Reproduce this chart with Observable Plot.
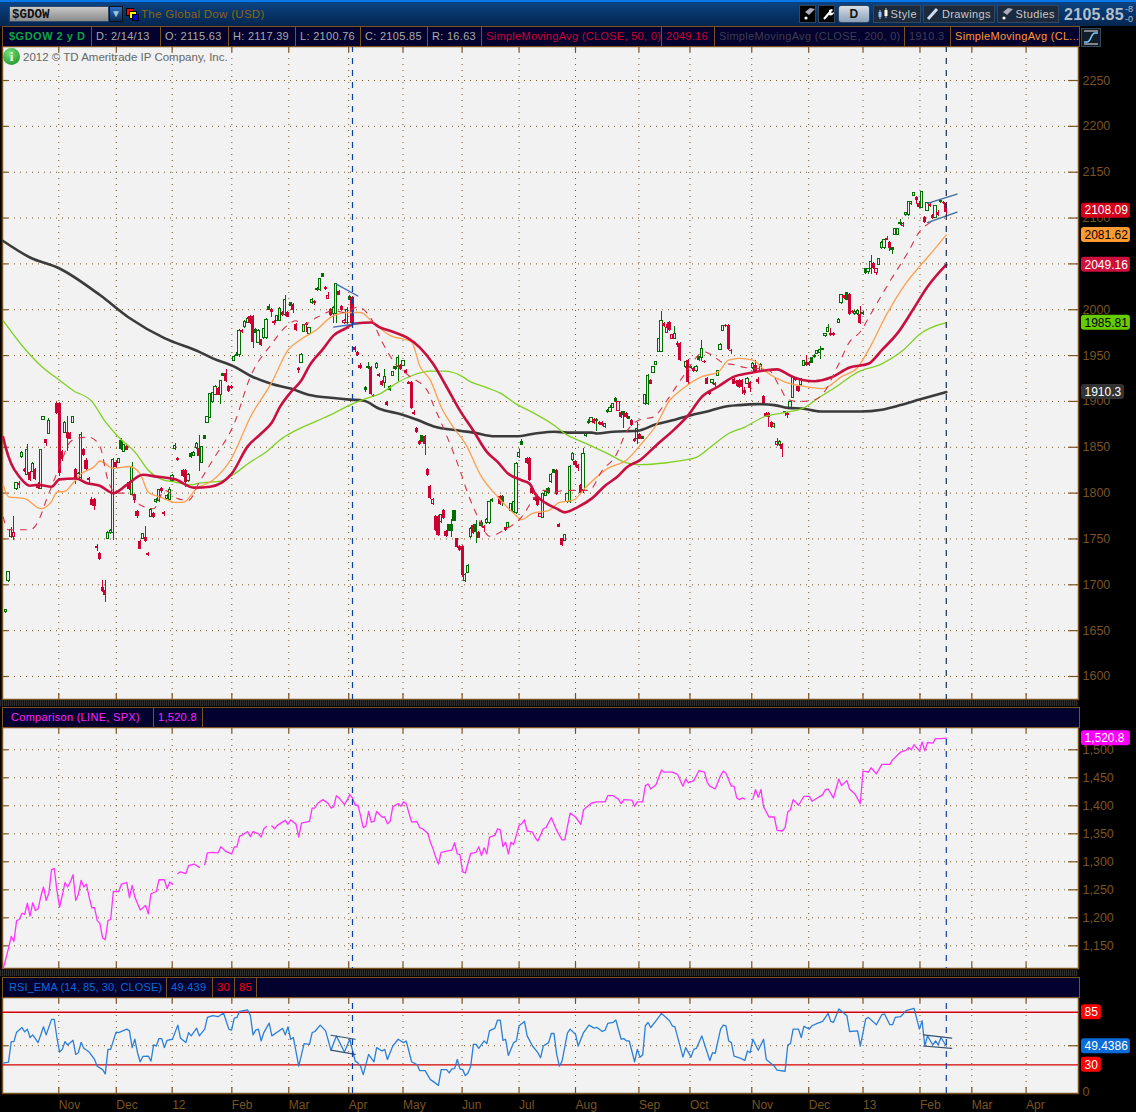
<!DOCTYPE html>
<html><head><meta charset="utf-8">
<script src="https://cdn.jsdelivr.net/npm/d3@7"></script>
<script src="https://cdn.jsdelivr.net/npm/@observablehq/plot@0.6"></script>
<style>
html,body{margin:0;padding:0;background:#000;width:1136px;height:1112px;overflow:hidden}
body{position:relative;font-family:"Liberation Sans",sans-serif}
.abs,svg{position:absolute}
.top{left:0;top:0;width:1136px;height:26px;background:linear-gradient(#0878e8 0,#0878e8 2px,#0a4384 2px,#04254e 100%)}
.row{position:absolute;left:2px;width:1076px;height:19px;background:#03012e;border:1px solid #7a5220;box-sizing:content-box;color:#aaa;font-size:11px;letter-spacing:.3px;line-height:19px;white-space:nowrap;overflow:hidden}
.row span{position:absolute;top:0;height:19px;padding-left:4px;box-sizing:border-box;border-right:1px solid #7a5220;overflow:hidden}
.band{position:absolute;left:0;width:1078px;height:6px;background:repeating-linear-gradient(90deg,#2e2e2e 0 1px,#111 1px 2px)}
.btn{position:absolute;top:5px;height:18px;background:#1b2a3c;border:1px solid #33465c;color:#c9c9c9;font-size:11px;line-height:16px;box-sizing:border-box;letter-spacing:.4px;text-align:right;padding-right:3px}
.btn svg{left:2px;top:1px}
</style></head><body>
<div id="charts"></div>
<script>
// ---------- axis ticks ----------
const monthTicks=[20.7,42.1,62.9,85.1,106.3,128.6,148.8,170.8,192,213,236.6,255.6,278.6,299.8,320,341.2,360.5,380.7];
const monthLabels=["Nov","Dec","12","Feb","Mar","Apr","May","Jun","Jul","Aug","Sep","Oct","Nov","Dec","13","Feb","Mar","Apr"];
const priceTicks=[1600,1650,1700,1750,1800,1850,1900,1950,2000,2050,2100,2150,2200,2250];
const priceLabels=[1600,1650,1700,1750,1800,1850,1900,1950,2000,2100,2150,2200,2250];
const spxTicks=[1150,1200,1250,1300,1350,1400,1450,1500];
const rsiGrid=[50];
const rsiLevels=[30,85];
const cursorBars=[130,351];

// ---------- candles: [bar, bodyLow, bodyHigh, low, high] ----------
const greenBars=[[1,1670,1672,1669,1673],[2,1704,1714,1703,1715],[3,1752,1760,1751,1763],[5,1804,1811,1803,1812],[7,1839,1844,1838,1845],[9,1820,1847,1819,1853],[11,1823,1832,1822,1833],[14,1805,1847,1804,1848],[15,1880,1883,1879,1884],[17,1865,1879,1864,1881],[23,1866,1877,1865,1878],[26,1877,1883,1876,1884],[28,1815,1821,1814,1822],[29,1816,1863,1815,1866],[39,1750,1757,1749,1758],[40,1756,1759,1755,1760],[41,1757,1836,1748,1838],[43,1833,1837,1832,1838],[45,1845,1852,1844,1853],[48,1798,1829,1797,1833],[52,1750,1755,1749,1756],[55,1774,1782,1773,1783],[57,1790,1793,1789,1794],[58,1791,1803,1790,1804],[61,1794,1797,1793,1798],[62,1793,1803,1792,1806],[63,1813,1819,1812,1820],[64,1848,1851,1847,1854],[69,1813,1820,1812,1821],[71,1841,1844,1840,1845],[72,1849,1854,1848,1855],[74,1833,1850,1832,1851],[76,1877,1883,1876,1884],[77,1882,1908,1881,1909],[78,1899,1909,1898,1910],[79,1907,1916,1906,1917],[81,1907,1922,1897,1923],[86,1944,1948,1943,1950],[88,1951,1977,1948,1978],[90,1981,1987,1980,1988],[91,1986,1990,1985,1991],[95,1964,1977,1963,1978],[97,1969,1979,1968,1980],[98,1969,1989,1968,1990],[102,1988,1993,1987,1994],[103,1988,2001,1987,2002],[105,1994,2011,1993,2015],[111,1942,1951,1941,1952],[112,1976,1983,1975,1984],[114,1974,1980,1973,1981],[115,2007,2011,2006,2012],[118,2021,2033,2020,2034],[123,1995,2002,1985,2003],[124,1995,2028,1985,2029],[128,1985,2000,1984,2002],[139,1936,1941,1935,1942],[142,1920,1927,1914,1935],[145,1928,1932,1927,1933],[147,1937,1947,1922,1950],[149,1939,1944,1938,1945],[163,1768,1776,1767,1777],[172,1704,1711,1703,1712],[173,1713,1721,1712,1722],[174,1752,1761,1751,1762],[180,1767,1771,1766,1772],[181,1767,1790,1766,1791],[188,1762,1767,1761,1768],[189,1780,1788,1779,1789],[190,1779,1790,1778,1791],[191,1778,1832,1777,1833],[192,1839,1844,1838,1848],[201,1773,1799,1772,1800],[202,1797,1801,1796,1802],[204,1812,1820,1811,1821],[209,1748,1754,1747,1755],[210,1790,1799,1789,1800],[211,1790,1829,1789,1830],[212,1836,1843,1835,1844],[216,1803,1843,1800,1849],[217,1862,1865,1861,1866],[219,1878,1882,1877,1883],[224,1872,1875,1871,1876],[226,1889,1893,1888,1896],[227,1893,1897,1892,1898],[236,1859,1870,1853,1877],[239,1897,1907,1896,1908],[240,1897,1928,1896,1929],[242,1931,1937,1930,1938],[243,1940,1943,1939,1944],[244,1954,1968,1953,1969],[245,1954,1988,1953,1998],[250,1968,1974,1967,1982],[254,1937,1943,1936,1944],[258,1933,1938,1932,1939],[260,1947,1957,1944,1966],[264,1920,1923,1919,1924],[266,1928,1933,1927,1934],[267,1956,1962,1955,1963],[268,1977,1982,1976,1983],[277,1919,1925,1918,1926],[279,1936,1941,1935,1942],[282,1933,1940,1932,1941],[287,1872,1875,1871,1876],[289,1852,1856,1851,1857],[293,1893,1899,1892,1900],[294,1904,1926,1903,1927],[297,1918,1924,1917,1925],[298,1939,1944,1938,1945],[303,1952,1955,1951,1956],[304,1953,1956,1946,1960],[306,1971,1973,1970,1974],[307,1976,1980,1975,1984],[311,1986,1989,1985,1990],[312,2007,2016,2006,2017],[317,1995,1998,1994,1999],[318,1995,1999,1994,2000],[322,2041,2044,2038,2045],[323,2044,2052,2038,2059],[326,2049,2055,2048,2056],[327,2067,2073,2066,2074],[328,2067,2076,2066,2077],[332,2082,2088,2081,2089],[333,2082,2088,2081,2089],[336,2103,2105,2102,2106],[337,2103,2117,2102,2118],[338,2115,2117,2114,2118],[339,2124,2127,2123,2128],[342,2111,2128,2110,2129],[344,2108,2116,2107,2117],[347,2100,2113,2099,2114]];
const redBars=[[6,1808,1811,1805,1813],[8,1824,1826,1823,1827],[10,1814,1823,1813,1824],[12,1815,1826,1814,1827],[13,1805,1809,1804,1812],[16,1854,1858,1851,1859],[20,1887,1898,1886,1899],[21,1821,1898,1818,1899],[22,1837,1845,1834,1847],[24,1860,1866,1845,1884],[25,1859,1865,1858,1866],[27,1815,1826,1809,1827],[30,1841,1848,1840,1849],[31,1826,1836,1825,1838],[32,1814,1816,1811,1817],[33,1787,1793,1786,1795],[34,1785,1793,1781,1794],[35,1740,1742,1736,1744],[36,1728,1734,1727,1735],[37,1693,1697,1692,1705],[38,1688,1694,1681,1705],[42,1828,1833,1827,1834],[46,1847,1851,1846,1852],[47,1804,1812,1803,1813],[49,1792,1798,1789,1799],[50,1774,1780,1772,1781],[51,1739,1747,1738,1748],[53,1747,1752,1746,1764],[54,1732,1734,1731,1735],[56,1773,1778,1772,1779],[59,1802,1805,1800,1806],[60,1777,1779,1775,1780],[65,1836,1838,1835,1839],[67,1818,1825,1817,1826],[68,1812,1825,1806,1826],[73,1840,1849,1824,1863],[80,1907,1914,1906,1915],[83,1922,1930,1921,1935],[84,1911,1916,1910,1917],[85,1914,1916,1913,1917],[89,1975,1977,1974,1978],[92,1985,1993,1984,1994],[93,1964,1993,1958,1994],[96,1961,1967,1960,1968],[100,1997,2000,1992,2001],[101,1985,1987,1983,1988],[104,1994,1997,1993,1998],[106,1992,1997,1991,1998],[108,1999,2006,1996,2007],[109,1977,1984,1976,1985],[110,1934,1936,1931,1937],[113,1983,1985,1975,1986],[116,2007,2009,2005,2010],[120,2022,2024,2021,2025],[122,1994,2000,1993,2001],[125,2016,2020,2015,2021],[126,1999,2004,1998,2005],[130,1985,2013,1984,2014],[131,1956,1959,1953,1960],[132,1950,1953,1949,1954],[133,1936,1939,1935,1941],[137,1908,1937,1907,1938],[138,1905,1907,1904,1908],[140,1927,1929,1926,1930],[141,1917,1922,1916,1923],[143,1896,1899,1895,1900],[148,1935,1939,1934,1940],[150,1930,1934,1929,1935],[151,1919,1921,1918,1922],[152,1892,1921,1891,1922],[153,1886,1888,1885,1890],[154,1866,1871,1865,1872],[155,1853,1856,1852,1857],[157,1853,1862,1841,1863],[158,1819,1826,1818,1827],[159,1794,1807,1793,1808],[161,1759,1775,1758,1776],[162,1754,1775,1753,1776],[164,1772,1781,1771,1782],[165,1753,1758,1752,1759],[169,1741,1750,1740,1751],[170,1737,1742,1736,1743],[171,1710,1742,1708,1743],[175,1756,1765,1755,1766],[177,1751,1757,1750,1758],[179,1761,1764,1757,1765],[185,1788,1796,1787,1797],[187,1759,1762,1758,1763],[195,1832,1838,1831,1839],[196,1814,1838,1813,1839],[197,1800,1805,1799,1806],[198,1792,1795,1791,1796],[199,1786,1795,1785,1796],[206,1798,1825,1797,1826],[207,1763,1766,1762,1767],[208,1743,1750,1742,1751],[213,1830,1834,1829,1835],[214,1827,1830,1824,1831],[215,1800,1808,1799,1809],[220,1876,1880,1875,1881],[222,1875,1877,1874,1878],[223,1874,1877,1873,1878],[230,1882,1888,1881,1889],[232,1882,1887,1881,1888],[234,1874,1879,1873,1880],[235,1856,1859,1855,1860],[237,1859,1864,1858,1865],[241,1919,1923,1918,1924],[246,1982,1985,1981,1986],[248,1977,1986,1976,1987],[251,1961,1963,1959,1965],[252,1945,1963,1944,1964],[255,1921,1945,1919,1946],[257,1933,1936,1932,1937],[261,1942,1944,1941,1945],[262,1919,1925,1918,1926],[263,1908,1911,1906,1912],[265,1917,1920,1913,1921],[269,1982,1983,1981,1984],[270,1957,1983,1955,1984],[271,1954,1956,1951,1957],[272,1919,1924,1918,1925],[273,1920,1922,1916,1923],[274,1915,1923,1914,1924],[275,1915,1923,1908,1924],[276,1909,1912,1907,1915],[278,1914,1921,1910,1922],[280,1931,1939,1930,1945],[281,1921,1924,1918,1926],[283,1897,1905,1896,1906],[284,1883,1887,1882,1888],[285,1882,1887,1872,1888],[286,1872,1877,1871,1878],[290,1848,1853,1839,1854],[292,1885,1887,1881,1888],[295,1923,1925,1922,1926],[296,1911,1916,1910,1917],[299,1939,1942,1938,1950],[300,1939,1942,1938,1943],[308,1972,1974,1971,1980],[309,1972,1974,1971,1975],[313,2012,2015,2011,2016],[315,1995,2017,1994,2018],[316,1997,1998,1996,1999],[319,1985,1995,1984,2003],[324,2045,2050,2044,2051],[329,2076,2078,2075,2080],[330,2067,2073,2064,2074],[340,2119,2122,2115,2123],[341,2111,2116,2110,2118],[343,2095,2101,2094,2102],[345,2113,2115,2112,2116],[346,2099,2103,2098,2104],[348,2103,2106,2102,2108],[350,2116,2117,2115,2118],[351,2105.85,2115.63,2100.76,2117.39]];
const outlineRedBars=[[4,1752,1757,1748,1774],[121,2012,2015,2011,2019],[127,1985,1988,1984,1989],[160,1788,1793,1787,1794],[200,1774,1777,1773,1778],[229,1890,1899,1889,1900],[247,1975,1980,1974,1984],[249,1968,1972,1967,1973],[288,1852,1856,1851,1860],[325,2040,2044,2037,2045],[335,2091,2094,2090,2095]];
const solidGreenBars=[[44,1848,1857,1847,1860],[70,1839,1843,1838,1844],[75,1859,1862,1858,1863],[82,1928,1930,1927,1931],[87,1950,1951,1949,1953],[94,1975,1978,1974,1980],[99,2000,2003,1999,2006],[107,2004,2007,2003,2008],[117,2021,2023,2020,2024],[119,2036,2039,2035,2040],[129,2011,2014,2010,2016],[135,1912,1915,1910,1916],[136,1936,1938,1935,1942],[144,1913,1916,1911,1917],[146,1935,1937,1934,1938],[156,1856,1862,1855,1863],[166,1759,1765,1758,1766],[167,1759,1765,1752,1771],[168,1770,1780,1769,1781],[176,1758,1765,1745,1770],[178,1764,1767,1762,1770],[182,1791,1793,1790,1794],[186,1790,1796,1785,1797],[193,1853,1856,1852,1859],[203,1800,1804,1799,1806],[205,1822,1825,1821,1826],[218,1876,1878,1875,1880],[221,1879,1880,1867,1881],[225,1888,1890,1887,1891],[228,1900,1903,1899,1904],[231,1885,1888,1871,1889],[233,1881,1883,1880,1884],[238,1859,1861,1858,1862],[256,1936,1937,1935,1938],[259,1945,1948,1943,1949],[291,1887,1888,1884,1889],[301,1942,1947,1941,1948],[302,1948,1950,1947,1951],[305,1956,1957,1955,1958],[314,2011,2018,2010,2019],[320,1995,1996,1994,1998],[321,2040,2044,2038,2045],[331,2065,2067,2060,2068],[334,2093,2095,2092,2098],[349,2117,2119,2116,2120]];

// ---------- moving averages: [bar, value] ----------
const sma50=[[0,1861],[1,1849],[3,1832],[6,1818],[10,1808],[13,1809],[18,1807],[21,1815],[27,1816],[31,1811],[36,1808],[41,1800],[46,1809],[52,1820],[57,1818],[64,1815],[71,1806],[77,1807],[85,1821],[91,1851],[96,1865],[100,1877],[103,1894],[107,1910],[111,1923],[114,1939],[119,1957],[123,1972],[127,1979],[131,1985],[137,1986],[140,1981],[145,1976],[150,1970],[155,1959],[160,1941],[165,1916],[170,1890],[175,1868],[180,1845],[184,1834],[188,1821],[193,1814],[196,1810],[198,1799],[202,1789],[206,1783],[209,1779],[214,1785],[219,1794],[224,1808],[229,1819],[232,1828],[237,1836],[243,1852],[250,1870],[255,1885],[260,1905],[266,1916],[272,1927],[278,1931],[284,1934],[288,1935],[293,1928],[298,1923],[302,1922],[308,1926],[315,1937],[322,1941],[327,1956],[333,1975],[339,2002],[344,2025],[351,2049.16]];
const sma200=[[0,2075],[10,2057],[21,2045],[36,2016],[47,1991],[60,1969],[73,1954],[78,1947],[86,1938],[92,1928],[100,1919],[107,1914],[114,1907],[122,1904],[129,1902],[134,1901],[140,1892],[148,1886],[154,1880],[160,1873],[170,1868],[175,1866],[183,1862],[191,1862],[198,1865],[205,1867],[210,1866],[219,1866],[221,1865],[227,1867],[236,1868],[243,1875],[250,1880],[256,1885],[262,1889],[268,1894],[274,1896],[281,1897],[287,1896],[292,1893],[298,1892],[304,1889],[312,1889],[319,1889],[327,1891],[334,1896],[341,1902],[351,1910.3]];
const sma100=[[0,1988],[7,1961],[14,1939],[21,1923],[26,1912],[33,1900],[38,1878],[43,1861],[49,1845],[54,1825],[59,1815],[64,1812],[70,1809],[73,1811],[81,1813],[86,1821],[92,1834],[98,1845],[103,1858],[108,1867],[117,1879],[123,1887],[129,1896],[135,1903],[140,1908],[147,1921],[152,1928],[159,1933],[164,1933],[171,1927],[173,1923],[180,1915],[185,1909],[191,1897],[197,1888],[205,1874],[209,1865],[217,1854],[225,1843],[232,1833],[237,1831],[243,1832],[251,1835],[258,1839],[264,1852],[270,1865],[276,1872],[283,1883],[291,1888],[298,1893],[303,1903],[310,1916],[318,1932],[327,1941],[335,1956],[341,1973],[351,1985.81]];
const sma20=[[0,1809],[2,1796],[8,1794],[14,1783],[18,1791],[20,1801],[23,1802],[26,1811],[29,1821],[34,1829],[36,1835],[41,1827],[47,1829],[51,1821],[54,1801],[59,1795],[64,1790],[67,1790],[72,1805],[78,1814],[85,1838],[92,1883],[100,1921],[106,1956],[111,1968],[117,1979],[122,1992],[128,1997],[133,1997],[138,1985],[144,1972],[152,1965],[155,1939],[159,1923],[163,1894],[168,1870],[172,1854],[178,1818],[184,1796],[190,1778],[193,1771],[197,1778],[203,1781],[207,1790],[212,1792],[217,1807],[225,1827],[232,1836],[237,1852],[243,1874],[248,1901],[253,1914],[260,1927],[266,1932],[270,1945],[274,1947],[279,1945],[284,1932],[291,1921],[297,1917],[305,1914],[312,1927],[318,1937],[322,1956],[329,1996],[336,2029],[341,2047],[346,2064],[351,2081.62]];
const sma5=[[0,1774],[2,1760],[5,1760],[10,1760],[13,1769],[16,1792],[21,1829],[25,1856],[28,1860],[32,1861],[36,1851],[39,1814],[42,1800],[47,1800],[51,1787],[56,1783],[60,1803],[65,1794],[69,1792],[73,1812],[78,1836],[86,1876],[92,1927],[100,1963],[105,1981],[109,1988],[111,1983],[117,1992],[123,1999],[127,1997],[132,2003],[137,1990],[141,1965],[146,1941],[151,1928],[158,1911],[160,1897],[165,1863],[170,1825],[173,1799],[177,1772],[181,1753],[186,1759],[193,1774],[198,1796],[201,1803],[205,1801],[209,1803],[213,1803],[218,1803],[223,1825],[228,1841],[232,1867],[237,1880],[242,1883],[247,1901],[253,1927],[261,1954],[264,1950],[268,1942],[272,1940],[276,1937],[280,1936],[285,1934],[289,1916],[292,1902],[296,1900],[301,1901],[305,1908],[311,1941],[315,1965],[319,1976],[323,1996],[330,2031],[337,2064],[341,2085],[345,2095]];

// ---------- hand-drawn trend lines: [bar, value] pairs ----------
const wedgeA=[[[124,2028],[132,2015]],[[123,1981],[132,1985]]];
const wedgeB=[[[344,2116],[355,2126]],[[344,2095],[355,2106.5]]];
const rsiWedgeA=[[[122,61],[131,56.8]],[[122,45.5],[131,40.9]]];
const rsiWedgeB=[[[342.5,61.4],[353,57.9]],[[342.5,49.7],[353,47.3]]];

// ---------- SPX comparison: [bar, value], null value = gap ----------
const spx=[[0,1110],[1,1127],[2,1146],[3,1167],[4,1158],[5,1195],[6,1197],[7,1208],[8,1206],[9,1226],[10,1203],[11,1227],[12,1213],[13,1216],[14,1238],[15,1255],[16,1231],[17,1244],[18,1286],[19,1288],[20,1249],[21,1219],[22,1240],[23,1263],[24,1255],[25,1264],[26,1277],[27,1231],[28,1242],[29,1267],[30,1255],[31,1260],[32,1237],[33,1218],[34,1218],[35,1195],[36,1190],[37,1164],[38,1161],[39,1195],[40,1197],[41,1247],[43,1247],[44,1260],[46,1263],[47,1236],[48,1258],[49,1237],[51,1214],[53,1222],[54,1207],[55,1243],[57,1247],[58,1268],[60,1268],[61,1252],[62,1264],[63,1260],[64,null],[65,1279],[66,1282],[68,1279],[69,1293],[71,1296],[73,1290],[74,null],[75,1295],[76,1316],[78,1317],[80,1316],[81,1327],[83,1318],[85,1314],[86,1326],[87,1327],[88,1346],[89,1348],[91,1354],[92,1345],[93,1354],[95,1350],[96,1344],[97,1359],[98,1363],[99,null],[100,1364],[101,1359],[102,1365],[105,1374],[106,1367],[107,1375],[109,1367],[110,1344],[111,1369],[114,1372],[115,1396],[116,1396],[117,1404],[119,1411],[121,1404],[122,1396],[123,1398],[124,1418],[125,1414],[127,1402],[128,1410],[129,1420],[130,1414],[131,1401],[132,1401],[133,1383],[134,1361],[135,1364],[136,1390],[137,1371],[138,1372],[139,1390],[140,1385],[141,1380],[142,1380],[143,1368],[144,1372],[145,1398],[147,1404],[148,1399],[149,1407],[150,1404],[152,1371],[154,1372],[155,1361],[156,1359],[158,1351],[159,1335],[160,1323],[161,1308],[162,1296],[163,1317],[165,1319],[167,1321],[168,1334],[169,1314],[170,1313],[171,1282],[172,1280],[174,1315],[176,1317],[177,1327],[178,1311],[179,1325],[180,1314],[181,1344],[183,1347],[184,1359],[185,1357],[186,1327],[187,1335],[188,1314],[189,1335],[190,1331],[192,1365],[193,1368],[194,1375],[195,1355],[197,1353],[198,1343],[199,1337],[201,1359],[202,1361],[204,1379],[206,1356],[208,1339],[209,1339],[211,1387],[213,1380],[215,1367],[216,1393],[218,1401],[219,1405],[221,1407],[224,1407],[225,1418],[227,1418],[229,1412],[230,1404],[231,1411],[234,1410],[235,1399],[236,1407],[238,1407],[239,1436],[240,1439],[241,1430],[243,1438],[245,1464],[246,1460],[249,1460],[251,1456],[252,1445],[253,1435],[254,1448],[255,1441],[257,1445],[259,1463],[261,1460],[262,1442],[263,1435],[265,1430],[267,1454],[268,1462],[269,1458],[271,1435],[272,1435],[273,1414],[274,1411],[275,1414],[276,1412],[277,null],[279,1412],[280,1429],[281,1415],[282,1429],[283,1398],[285,1380],[287,1380],[288,1356],[290,1355],[291,1361],[292,1389],[293,1393],[294,1411],[296,1401],[298,1417],[300,1417],[301,1408],[303,1414],[305,1420],[306,1429],[307,1430],[309,1414],[311,1448],[312,1436],[314,1445],[315,1430],[317,1421],[319,1404],[320,1462],[322,1460],[323,1468],[325,1457],[327,1474],[330,1474],[331,1482],[334,1496],[336,1499],[337,1504],[338,1500],[339,1509],[341,1498],[342,1514],[343,1498],[344,1513],[346,1512],[347,1520],[349,1520],[351,1520.8]];

// ---------- RSI: [bar, value] ----------
const rsi=[[0,31.8],[2,32.8],[3,54.3],[4,54.3],[5,64.2],[7,69.1],[8,64.5],[9,67.4],[10,58.6],[11,61.4],[13,53.3],[15,69.8],[16,61.4],[18,77.6],[19,77.6],[20,58.6],[21,43.4],[22,46.2],[23,54.3],[24,50.8],[26,55.7],[27,40.9],[28,42.7],[29,53.6],[30,47.3],[32,43.4],[34,35.6],[35,28.6],[37,25],[38,20.5],[39,46.2],[40,46.2],[42,64.2],[43,63.8],[46,67.4],[47,65.6],[48,48],[49,56.8],[50,42.7],[51,33.2],[52,38.8],[54,39.2],[55,33.9],[56,50.8],[57,49.7],[58,57.5],[59,57.5],[60,48],[61,55.7],[63,56.8],[65,71.6],[66,57.8],[68,53.3],[69,63.8],[70,60.3],[72,68.4],[73,60.3],[75,67.4],[76,79.7],[78,81.5],[80,80.4],[82,84.3],[84,67.4],[85,66.3],[86,79],[87,79.7],[88,86],[91,87.5],[92,81.5],[93,61.4],[94,66.3],[95,67.4],[96,55],[97,63.8],[99,73.7],[100,60.3],[103,66.3],[104,68],[105,61.4],[106,69.8],[107,56.8],[108,58.6],[110,28.6],[112,52.2],[114,51.5],[115,63.8],[116,64.9],[118,71.6],[120,65.6],[122,45.2],[124,60.3],[127,43.4],[129,56.8],[131,33.9],[132,32.1],[133,28.6],[134,19.8],[136,40.9],[138,33.2],[139,48],[141,44.5],[142,46.2],[143,35.6],[145,49.7],[147,56.8],[149,53.3],[150,55],[151,44.5],[152,33.2],[154,30.3],[155,24],[157,24],[159,14.5],[160,12.7],[162,8.5],[163,25],[165,25],[166,21.5],[167,25.8],[168,26.1],[169,35.6],[170,25.8],[171,25],[172,18.7],[173,21.5],[174,28.6],[175,51.5],[176,51.5],[177,47.3],[179,55],[180,52.2],[181,65.6],[183,68.4],[184,76.9],[185,76.9],[186,55.7],[187,56.8],[188,39.9],[190,53.3],[191,55],[192,70.9],[194,75.5],[195,60.3],[197,49.7],[199,42.7],[200,37.4],[201,49.7],[203,53.3],[204,62.8],[205,62.8],[206,40.9],[207,28.6],[208,33.9],[210,63.1],[211,67.4],[213,62.1],[214,49.7],[216,63.8],[218,71.6],[220,68.4],[221,69.1],[223,64.9],[224,66.3],[225,73.4],[227,74.4],[228,76.9],[230,56.8],[231,57.5],[232,55],[233,55],[235,33.2],[236,46.2],[237,38.1],[238,40.2],[239,70.9],[240,74.4],[241,69.1],[243,76.2],[245,83.9],[248,76.2],[249,70.9],[250,69.8],[253,38.1],[254,48],[256,38.1],[257,46.2],[258,47.3],[260,60.3],[263,34.6],[264,42.7],[265,42],[267,67.4],[268,71.6],[269,70.9],[270,55],[271,53.3],[272,39.2],[274,37.4],[276,34.6],[277,44.5],[278,42.7],[279,56.8],[281,45.2],[283,56.8],[284,35.6],[285,33.2],[287,28.6],[288,24.4],[291,23.3],[292,50.8],[293,52.2],[294,67.4],[296,67.4],[297,58.6],[298,70.2],[300,67.4],[301,70.9],[303,73.4],[305,75.5],[307,83.9],[308,75.5],[309,74.4],[311,88.5],[314,81.5],[315,64.9],[318,65.6],[319,49.7],[321,78],[322,79.7],[325,72],[327,82.5],[328,83.2],[330,72],[331,72],[332,79.7],[334,80.4],[336,86.8],[339,89.2],[341,67.4],[342,76.2],[343,49.7],[344,60.3],[346,50.8],[347,55],[348,50.8],[349,58.6],[351,49.44]];

// ---------- value badges ----------
const priceBadges=[["2108.09",2108.09,"#d4001a","#fff"],["2081.62",2081.62,"#ff9a33","#000"],["2049.16",2049.16,"#cc0f3c","#fff"],["1985.81",1985.81,"#66cc00","#000"],["1910.3",1910.3,"#333","#fff"]];
const spxBadges=[["1,520.8",1520.8,"#ff00ff","#fff"]];
const rsiBadges=[["85",85,"#ff0000","#fff"],["49.4386",49.44,"#0a6cd8","#fff"],["30",30,"#ff0000","#fff"]];

// ---------- styling ----------
const xDomain=[-0.25,400.2];
const brown="#7a5420", dots="1 5", fontFamily="Liberation Sans", uiFont=12.5;
const GREEN="#006e00", RED="#cc0033";

function candles(){
  const hw=.42, rw=.58;
  const wick=(data,stroke)=>Plot.ruleX(data,{x:d=>d[0],y1:d=>d[3],y2:d=>d[4],stroke,strokeWidth:1,shapeRendering:"crispEdges"});
  const body=(data,hw,o)=>Plot.rect(data,{x1:d=>d[0]-hw,x2:d=>d[0]+hw,y1:d=>d[1],y2:d=>d[2],shapeRendering:"crispEdges",...o});
  return [
    wick(greenBars,GREEN),wick(solidGreenBars,GREEN),wick(redBars,RED),wick(outlineRedBars,RED),
    body(greenBars,hw,{fill:"#f2f2f2",stroke:GREEN}),
    body(solidGreenBars,hw,{fill:GREEN,stroke:GREEN}),
    body(redBars,rw,{fill:RED}),
    body(outlineRedBars,hw,{fill:"#f2f2f2",stroke:RED})
  ];
}
const series=(data,o)=>Plot.line(data,{x:d=>d[0],y:d=>d[1],strokeLinejoin:"round",...o});
const smooth=(data,o)=>series(data,{curve:"monotone-x",...o});
const wedge=(pairs,stroke,w=1.3)=>pairs.map(p=>series(p,{stroke,strokeWidth:w}));

function badges(list,halfH){
  const x0=401.3;
  return [
    Plot.rect(list,{x1:x0,x2:d=>x0+3.1+d[0].length*2.16,y1:d=>d[1]-halfH,y2:d=>d[1]+halfH,fill:d=>d[2],rx:3}),
    Plot.text(list,{x:x0,y:d=>d[1],text:d=>d[0],fill:d=>d[3],textAnchor:"start",dx:3,fontSize:12,fontFamily})
  ];
}
function furniture(yLo,yHi,pxPerUnit,labels,gridTicks){
  const tick=6/pxPerUnit;
  return [
    Plot.frame({fill:"#f2f2f2",stroke:brown,strokeWidth:1.5}),
    Plot.gridX(monthTicks,{stroke:brown,strokeOpacity:1,strokeDasharray:dots,strokeWidth:1}),
    Plot.gridY(gridTicks,{stroke:brown,strokeOpacity:1,strokeDasharray:dots,strokeWidth:1}),
    Plot.ruleX(monthTicks,{y1:yHi,y2:yHi-tick,stroke:brown,strokeWidth:1.2}),
    Plot.ruleX(monthTicks,{y1:yLo,y2:yLo+tick,stroke:brown,strokeWidth:1.2}),
    Plot.ruleY(gridTicks,{x1:xDomain[0],x2:xDomain[0]+2.2,stroke:brown,strokeWidth:1.2}),
    Plot.ruleY(gridTicks,{x1:xDomain[1]-3.7,x2:xDomain[1],stroke:brown,strokeWidth:1.2}),
    labels
  ];
}
function place(svg,top){svg.style.left="0";svg.style.top=top+"px";document.getElementById("charts").append(svg);}
const base={width:1136,marginLeft:2,marginRight:58,marginTop:0,style:{background:"#000",overflow:"visible"}};

// main price panel
const priceDomain=[1574.9,2287.1];
place(Plot.plot({...base,height:653,marginBottom:0,
  x:{domain:xDomain,axis:null},y:{domain:priceDomain,axis:null},
  marks:[
    furniture(priceDomain[0],priceDomain[1],.9169,
      Plot.axisY(priceLabels,{anchor:"right",tickSize:0,tickPadding:4,color:brown,fontSize:uiFont,fontFamily,label:null,tickFormat:d3.format("d")}),priceTicks),
    candles(),
    smooth(sma200,{stroke:"#3b3b3b",strokeWidth:2.6}),
    smooth(sma100,{stroke:"#80d020",strokeWidth:1.3}),
    smooth(sma20,{stroke:"#ff9f4d",strokeWidth:1.3}),
    smooth(sma50,{stroke:"#c90f3f",strokeWidth:2.6}),
    smooth(sma5,{stroke:"#d8314a",strokeWidth:1.1,strokeDasharray:"6 7"}),
    wedge(wedgeA,"#3d6db5"),wedge(wedgeB,"#3f6a9c"),
    Plot.ruleX(cursorBars,{stroke:d=>d===130?"#0a3fa8":"#1a3050",strokeDasharray:"6 6",strokeWidth:1.2}),
    badges(priceBadges,7.5/.9169)
  ]}),46);

// comparison panel
const spxDomain=[1109.5,1539.8];
place(Plot.plot({...base,height:241,marginBottom:0,
  x:{domain:xDomain,axis:null},y:{domain:spxDomain,axis:null},
  marks:[
    furniture(spxDomain[0],spxDomain[1],.56,
      Plot.axisY(spxTicks,{anchor:"right",tickSize:0,tickPadding:4,color:brown,fontSize:uiFont,fontFamily,label:null,tickFormat:d3.format(",")}),spxTicks),
    Plot.line(spx,{x:d=>d[0],y:d=>d[1],stroke:"#ff33ff",strokeWidth:1.3}),
    Plot.ruleX(cursorBars,{stroke:"#0a3fa8",strokeDasharray:"6 6",strokeWidth:1.2}),
    badges(spxBadges,7.5/.56)
  ]}),727);

// RSI panel
const rsiDomain=[0,100.5];
place(Plot.plot({...base,height:115,marginBottom:19,
  x:{domain:xDomain,axis:null},y:{domain:rsiDomain,axis:null},
  marks:[
    furniture(0,100.5,.955,
      Plot.axisY([0],{anchor:"right",tickSize:0,tickPadding:4,color:brown,fontSize:uiFont,fontFamily,label:null,dy:-2}),rsiGrid),
    Plot.axisX(monthTicks,{anchor:"bottom",tickSize:0,tickPadding:7,textAnchor:"start",color:brown,fontSize:12,fontFamily,label:null,
      tickFormat:d=>monthLabels[monthTicks.indexOf(d)]}),
    Plot.ruleY(rsiLevels,{stroke:"#d40000",strokeWidth:1.4}),
    series(rsi,{stroke:"#2a7fd8",strokeWidth:1.3}),
    wedge(rsiWedgeA,"#33506e",1.2),wedge(rsiWedgeB,"#33506e",1.2),
    Plot.ruleX(cursorBars,{y1:0,y2:100.5,stroke:"#0a3fa8",strokeDasharray:"6 6",strokeWidth:1.2}),
    badges(rsiBadges,7.5/.955)
  ]}),997);

// ---------- chrome (HTML) ----------
const funnel='<svg width="14" height="14" viewBox="0 0 14 14"><path d="M8 1l5 1-6 6-4-3z" fill="#aab"/><circle cx="4" cy="11" r="1.6" fill="#fff"/></svg>';
const chrome=document.createElement("div");
chrome.innerHTML=`
<div class="abs top"></div>
<div class="abs" style="left:9px;top:6px;width:100px;height:16px;background:linear-gradient(#c8c8c8,#8a8a8a);border:1px solid #2d4a6a;font:bold 12.5px 'Liberation Mono',monospace;line-height:16px;padding-left:2px;box-sizing:border-box;color:#111">$GDOW</div>
<div class="abs" style="left:109px;top:6px;width:14px;height:16px;background:linear-gradient(#2b6fc4,#0d2c54);border:1px solid #111;box-sizing:border-box;color:#9cd;font-size:10px;line-height:14px;text-align:center">▼</div>
<div class="abs" style="left:126px;top:8px;width:6px;height:6px;background:#f00;border:1px solid #000"></div>
<div class="abs" style="left:129px;top:11px;width:6px;height:6px;background:#ff0;border:1px solid #000"></div>
<div class="abs" style="left:132px;top:14px;width:5px;height:5px;background:#00d;border:1px solid #000"></div>
<div class="abs" style="left:141px;top:6px;color:#8a6510;font-size:11.5px;letter-spacing:.3px;line-height:16px">The Global Dow (USD)</div>
<div class="btn" style="left:799px;width:17px;background:#000;padding:0">${funnel}</div>
<div class="btn" style="left:818px;width:17px;background:#000;padding:0"><svg width="14" height="14" viewBox="0 0 14 14"><path d="M3 12L9 5" stroke="#fff" stroke-width="2"/><path d="M8 3l3-1 1 1-2 2 1 1 2-1c0 3-3 4-5 3z" fill="#fff"/></svg></div>
<div class="btn" style="left:838px;width:32px;background:linear-gradient(#d8dfe8,#8aa0b8);color:#111;font-weight:bold;font-size:12px;text-align:center;padding:0;border-radius:3px">D</div>
<div class="btn" style="left:873px;width:48px"><svg width="14" height="14" viewBox="0 0 14 14"><path d="M4 3v9M10 1v10" stroke="#ccc"/><rect x="2.5" y="5" width="3" height="5" fill="#9bf"/><rect x="8.5" y="3" width="3" height="6" fill="#ffd"/></svg>Style</div>
<div class="btn" style="left:923px;width:72px"><svg width="14" height="14" viewBox="0 0 14 14"><path d="M2 12L11 2" stroke="#cde" stroke-width="3"/></svg>Drawings</div>
<div class="btn" style="left:997px;width:62px">${funnel}Studies</div>
<div class="abs" style="left:1064px;top:5px;color:#b4bfcc;font-size:16px;font-weight:bold;letter-spacing:.3px;line-height:20px">2105.85</div>
<div class="abs" style="left:1125px;top:4px;color:#b4bfcc;font-size:9px;line-height:10px">-8<br>-0</div>
<div class="row" style="top:26px">
 <span style="left:0;width:89px;color:#0fa044;font-weight:bold;padding-left:6px;letter-spacing:.5px">$GDOW 2 y D</span>
 <span style="left:89px;width:69px">D: 2/14/13</span>
 <span style="left:158px;width:68px">O: 2115.63</span>
 <span style="left:226px;width:67px">H: 2117.39</span>
 <span style="left:293px;width:65px">L: 2100.76</span>
 <span style="left:358px;width:67px">C: 2105.85</span>
 <span style="left:425px;width:54px">R: 16.63</span>
 <span style="left:479px;width:180px;color:#cc0033">SimpleMovingAvg (CLOSE, 50, 0)</span>
 <span style="left:659px;width:53px;color:#cc0033">2049.16</span>
 <span style="left:712px;width:190px;color:#3e3e52">SimpleMovingAvg (CLOSE, 200, 0)</span>
 <span style="left:902px;width:46px;color:#3e3e52">1910.3</span>
 <span style="left:948px;width:128px;color:#ff9a33;border:0">SimpleMovingAvg (CL...</span>
</div>
<div class="abs" style="left:1081px;top:28px;width:20px;height:19px;background:#111c28;border:1px solid #34485c;box-sizing:border-box"><svg width="18" height="17" viewBox="0 0 18 17"><path d="M2 13h3c4 0 4-9 8-9h3" fill="none" stroke="#7cc6ff" stroke-width="1.6"/><path d="M2 15h14M2 2h14" stroke="#eee" stroke-width="1"/></svg></div>
<div class="abs" style="left:3px;top:48px;width:17px;height:17px;border-radius:50%;background:radial-gradient(circle at 40% 30%,#7be07b,#0a8a1a);color:#fff;font:bold 13px 'Liberation Serif',serif;line-height:17px;text-align:center">i</div>
<div class="abs" style="left:23px;top:50px;color:#666;font-size:11.5px;line-height:14px">2012 © TD Ameritrade IP Company, Inc.</div>
<div class="band" style="top:700px"></div>
<div class="row" style="top:707px">
 <span style="left:0;width:151px;color:#ff22ff;padding-left:8px">Comparison (LINE, SPX)</span>
 <span style="left:151px;width:49px;color:#ff22ff">1,520.8</span>
</div>
<div class="band" style="top:970px"></div>
<div class="row" style="top:977px">
 <span style="left:0;width:164px;color:#0a6cd8;padding-left:6px;letter-spacing:.1px">RSI_EMA (14, 85, 30, CLOSE)</span>
 <span style="left:164px;width:46px;color:#0a6cd8">49.439</span>
 <span style="left:210px;width:22px;color:#f00">30</span>
 <span style="left:232px;width:22px;color:#f00">85</span>
</div>`;
document.body.append(chrome);
</script>
</body></html>
